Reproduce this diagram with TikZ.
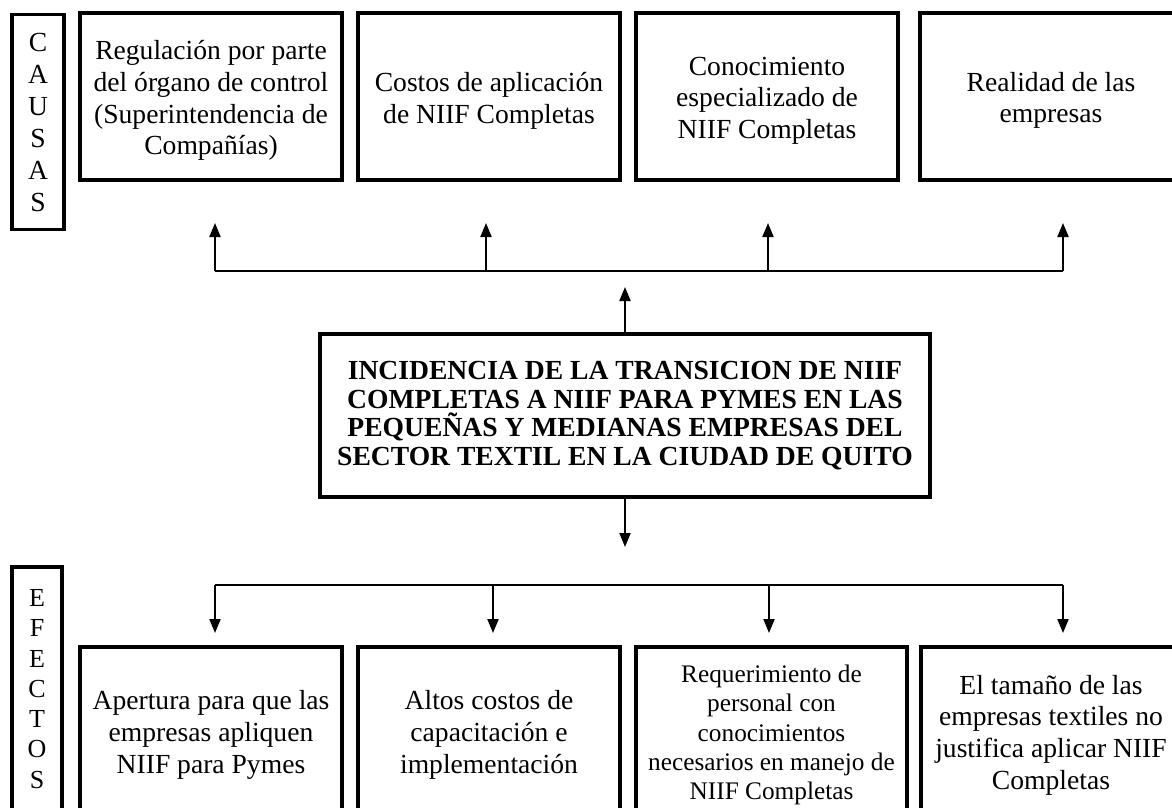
\documentclass[tikz,border=0pt]{standalone}
\usepackage{fontspec}
\setmainfont{Liberation Serif}
\usetikzlibrary{arrows.meta}
\begin{document}
\begin{tikzpicture}[x=1pt,y=-1pt,
  frame/.style={draw,line width=3.5pt,inner sep=0pt,minimum width=262pt,minimum height=167pt},
  efframe/.style={frame,minimum height=170pt},
  boxtext/.style={inner sep=0pt,align=center,font=\fontsize{27.6}{31.7}\selectfont},
  labbox/.style={draw,line width=3.5pt,inner sep=0pt,align=center,font=\fontsize{27.6}{32}\selectfont},
  mainbox/.style={draw,line width=3.5pt,inner sep=0pt,align=center,minimum width=610pt,minimum height=163pt,font=\fontsize{27.6}{28.5}\selectfont\bfseries},
  conn/.style={line width=2pt},
  arr/.style={line width=2pt,-{Triangle[width=11pt,length=14pt]}}]
\useasboundingbox (0,0) rectangle (1172,808);
% label boxes
\node[labbox,minimum width=52pt,minimum height=215pt] (causas) at (38,122) {C\\A\\U\\S\\A\\S};
\node[labbox,minimum width=50pt,minimum height=244pt,font=\fontsize{26}{30.3}\selectfont] (efectos) at (37,689) {E\\F\\E\\C\\T\\O\\S};
% causes
\node[frame] (c1) at (211,96.5) {};
\node[frame] (c2) at (489,96.5) {};
\node[frame] (c3) at (767,96.5) {};
\node[frame] (c4) at (1051,96.5) {};
\node[boxtext] (c1t) at ([yshift=-4pt]c1.center) {Regulación por parte\\del órgano de control\\(Superintendencia de\\Compañías)};
\node[boxtext] (c2t) at ([yshift=-4pt]c2.center) {Costos de aplicación\\de NIIF Completas};
\node[boxtext] (c3t) at ([yshift=-4pt]c3.center) {Conocimiento\\especializado de\\NIIF Completas};
\node[boxtext] (c4t) at ([yshift=-4pt]c4.center) {Realidad de las\\empresas};
% main
\node[mainbox] (main) at (625,415.5) {INCIDENCIA DE LA TRANSICION DE NIIF\\COMPLETAS A NIIF PARA PYMES EN LAS\\PEQUEÑAS Y MEDIANAS EMPRESAS DEL\\SECTOR TEXTIL EN LA CIUDAD DE QUITO};
% effects
\node[efframe] (e1) at (211,732) {};
\node[efframe] (e2) at (489,732) {};
\node[efframe,minimum width=271pt] (e3) at (771.5,732) {};
\node[efframe,minimum width=260pt] (e4) at (1051,732) {};
\node[boxtext] (e1t) at ([yshift=-3pt]e1.center) {Apertura para que las\\empresas apliquen\\NIIF para Pymes};
\node[boxtext] (e2t) at ([yshift=-3pt]e2.center) {Altos costos de\\capacitación e\\implementación};
\node[boxtext,font=\fontsize{25.3}{29.1}\selectfont] (e3t) at ([yshift=-3pt]e3.center) {Requerimiento de\\personal con\\conocimientos\\necesarios en manejo de\\NIIF Completas};
\node[boxtext] (e4t) at ([yshift=-3pt]e4.center) {El tamaño de las\\empresas textiles no\\justifica aplicar NIIF\\Completas};
% top bus
\coordinate (tu) at (625,287);
\coordinate (tb1) at (215,271); \coordinate (tt1) at (215,223);
\coordinate (tb2) at (486,271); \coordinate (tt2) at (486,223);
\coordinate (tb3) at (768,271); \coordinate (tt3) at (768,223);
\coordinate (tb4) at (1063,271); \coordinate (tt4) at (1063,223);
\draw[arr] (main.north) -- (tu);
\draw[conn] (tb1) -- (tb4);
\foreach \i in {1,2,3,4} \draw[arr] (tb\i) -- (tt\i);
% bottom bus
\coordinate (bd) at (625,547);
\coordinate (bb1) at (215,585); \coordinate (bt1) at (215,633);
\coordinate (bb2) at (493,585); \coordinate (bt2) at (493,633);
\coordinate (bb3) at (769,585); \coordinate (bt3) at (769,633);
\coordinate (bb4) at (1063,585); \coordinate (bt4) at (1063,633);
\draw[arr] (main.south) -- (bd);
\draw[conn] (bb1) -- (bb4);
\foreach \i in {1,2,3,4} \draw[arr] (bb\i) -- (bt\i);
\end{tikzpicture}
\end{document}
